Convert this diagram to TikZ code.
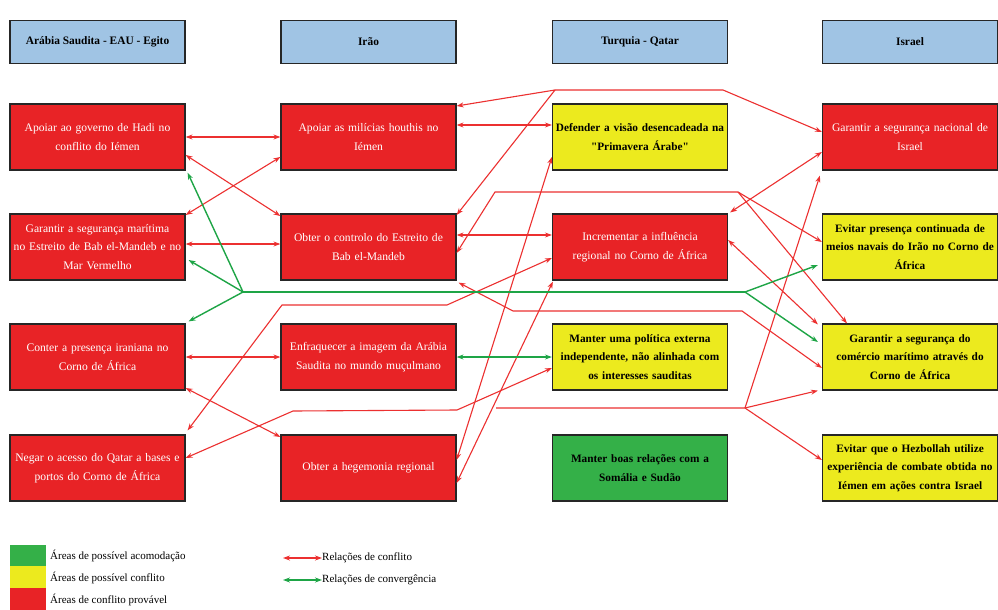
\documentclass[tikz,border=0pt]{standalone}
\usepackage{fontspec}
\setmainfont{Liberation Serif}[Ligatures=TeXOff]
\usetikzlibrary{arrows.meta}
\definecolor{boxred}{RGB}{232,35,38}
\definecolor{boxyel}{RGB}{236,234,30}
\definecolor{boxgrn}{RGB}{52,176,72}
\definecolor{hdrblue}{RGB}{160,196,228}
\definecolor{linered}{RGB}{236,48,48}
\definecolor{linegrn}{RGB}{30,165,70}
\begin{document}
\begin{tikzpicture}[x=1pt,y=-1pt,
  box/.style={draw=black!85, line width=1.2pt, minimum width=175pt, minimum height=66pt,
    text width=174pt, align=center, inner sep=0pt, font=\fontsize{11.6}{18.5}\selectfont},
  redbox/.style={box, fill=boxred, text=white},
  yelbox/.style={box, fill=boxyel, font=\fontsize{11.3}{18.5}\selectfont\bfseries},
  grnbox/.style={box, fill=boxgrn, font=\fontsize{11.3}{18.5}\selectfont\bfseries},
  hdr/.style={draw=black!85, line width=1.2pt, fill=hdrblue, minimum width=175pt,
    minimum height=43pt, inner sep=0pt, font=\fontsize{11.4}{13}\selectfont\bfseries},
  conf/.style={draw=linered, line width=1.1pt},
  conv/.style={draw=linegrn, line width=1.4pt},
  both/.style={{Stealth[length=7pt,width=5pt]}-{Stealth[length=7pt,width=5pt]}},
  tohead/.style={-{Stealth[length=7pt,width=5pt]}},
  legtxt/.style={anchor=west, inner sep=0pt, font=\fontsize{11}{12}\selectfont}
]
\useasboundingbox[fill=white] (0,0) rectangle (998,610);

% headers
\node[hdr] (H1) at (97.5,42) {Arábia Saudita - EAU - Egito};
\node[hdr] (H2) at (368.5,42) {Irão};
\node[hdr] (H3) at (640,42) {Turquia - Qatar};
\node[hdr] (H4) at (910,42) {Israel};

% column 1
\node[redbox] (A1) at (97.5,137) {Apoiar ao governo de Hadi no\\conflito do Iémen};
\node[redbox] (A2) at (97.5,247) {Garantir a segurança marítima\\no Estreito de Bab el-Mandeb e no\\Mar Vermelho};
\node[redbox] (A3) at (97.5,357) {Conter a presença iraniana no\\Corno de África};
\node[redbox] (A4) at (97.5,468) {Negar o acesso do Qatar a bases e\\portos do Corno de África};
% column 2
\node[redbox] (B1) at (368.5,137) {Apoiar as milícias houthis no\\Iémen};
\node[redbox] (B2) at (368.5,247) {Obter o controlo do Estreito de\\Bab el-Mandeb};
\node[redbox] (B3) at (368.5,357) {Enfraquecer a imagem da Arábia\\Saudita no mundo muçulmano};
\node[redbox] (B4) at (368.5,468) {Obter a hegemonia regional};
% column 3
\node[yelbox] (C1) at (640,137) {Defender a visão desencadeada na\\"Primavera Árabe"};
\node[redbox] (C2) at (640,247) {Incrementar a influência\\regional no Corno de África};
\node[yelbox] (C3) at (640,357) {Manter uma política externa\\independente, não alinhada com\\os interesses sauditas};
\node[grnbox] (C4) at (640,468) {Manter boas relações com a\\Somália e Sudão};
% column 4
\node[redbox] (D1) at (910,137) {Garantir a segurança nacional de\\Israel};
\node[yelbox] (D2) at (910,247) {Evitar presença continuada de\\meios navais do Irão no Corno de\\África};
\node[yelbox] (D3) at (910,357) {Garantir a segurança do\\comércio marítimo através do\\Corno de África};
\node[yelbox] (D4) at (910,468) {Evitar que o Hezbollah utilize\\experiência de combate obtida no\\Iémen em ações contra Israel};

% junction coordinates
\coordinate (J1) at (555,90);
\coordinate (J1b) at (723,90);
\coordinate (J2a) at (495,192);
\coordinate (J2) at (738,192);
\coordinate (J3a) at (513,311);
\coordinate (J3b) at (742,311);
\coordinate (J4a) at (496,408);
\coordinate (J4) at (745,408);
\coordinate (K1) at (282,305);
\coordinate (K2) at (447,305);
\coordinate (K3) at (293,411);
\coordinate (K4) at (457,410);
\coordinate (HG) at (243,292);
\coordinate (HG2) at (745,292);

% red conflict relations, column 1 - column 2
\draw[conf,both] (A1.east) -- (B1.west);
\draw[conf,both] ([yshift=-18pt]A1.east) -- ([yshift=31pt]B2.west);
\draw[conf,both] ([yshift=32pt]A2.east) -- ([yshift=-20pt]B1.west);
\draw[conf,both] ([yshift=3pt]A2.east) -- ([yshift=3pt]B2.west);
\draw[conf,both] (A3.east) -- (B3.west);
\draw[conf,both] ([yshift=-31pt]A3.east) -- ([yshift=31pt]B4.west);
\draw[conf,both] ([xshift=2pt,yshift=4pt]A4.north east) -- (K1) -- (K2) -- ([yshift=-11pt]C2.west);
\draw[conf,both] ([yshift=10pt]A4.east) -- (K3) -- (K4) -- ([yshift=-11pt]C3.west);

% Iran - Turkey/Qatar - Israel
\draw[conf,tohead] (J1) -- ([yshift=31pt]B1.east);
\draw[conf,tohead] (J1) -- ([yshift=32pt]B2.east);
\draw[conf,tohead] (J1) -- (J1b) -- ([yshift=5pt]D1.west);
\draw[conf,both] ([yshift=12pt]B1.east) -- ([yshift=12pt]C1.west);
\draw[conf,both] ([yshift=12pt]B2.east) -- ([yshift=12pt]C2.west);
\draw[conf,tohead] (J2) -- (J2a) -- ([yshift=-6pt]B2.east);
\draw[conf,tohead] (J2) -- ([yshift=5pt]D2.west);
\draw[conf,tohead] (J2) -- ([xshift=-63pt]D3.north);
\draw[conf,both] ([xshift=2pt,yshift=-2pt]B2.south east) -- (J3a) -- (J3b) -- ([yshift=-11pt]D3.west);
\draw[conf,both] ([yshift=-20pt]C1.west) -- ([yshift=8pt]B4.east);
\draw[conf,both] ([yshift=-15pt]B4.east) -- ([xshift=1pt,yshift=-1pt]C2.south west);
\draw[conf,tohead] (J4a) -- (J4) -- ([xshift=-2pt,yshift=-5pt]D1.south west);
\draw[conf,tohead] (J4) -- ([xshift=-4pt,yshift=0pt]D3.south west);
\draw[conf,tohead] (J4) -- ([yshift=8pt]D4.west);
\draw[conf,both] ([xshift=2pt,yshift=1pt]C2.north east) -- ([yshift=-15pt]D1.west);
\draw[conf,both] ([yshift=7pt]C2.east) -- ([xshift=-4pt,yshift=-1pt]D3.north west);

% green convergence relations
\draw[conv,tohead] (HG) -- ([xshift=2pt,yshift=-2pt]A1.south east);
\draw[conv,tohead] (HG) -- ([xshift=3pt,yshift=-13pt]A2.east);
\draw[conv,tohead] (HG) -- ([xshift=3pt,yshift=2pt]A3.north east);
\draw[conv] (HG) -- (HG2);
\draw[conv,tohead] (HG2) -- ([xshift=-4pt,yshift=-18pt]D2.west);
\draw[conv,tohead] (HG2) -- ([xshift=-4pt,yshift=15pt]D3.west);
\draw[conv,both] (B3.east) -- (C3.west);

% legend
\node[fill=boxgrn, minimum width=36pt, minimum height=21.5pt, inner sep=0pt] (LG) at (28,555.5) {};
\node[fill=boxyel, minimum width=36pt, minimum height=22pt, inner sep=0pt] (LY) at (28,577) {};
\node[fill=boxred, minimum width=36pt, minimum height=22pt, inner sep=0pt] (LR) at (28,599) {};
\node[legtxt] (TG) at (50,556) {Áreas de possível acomodação};
\node[legtxt] (TY) at (50,578) {Áreas de possível conflito};
\node[legtxt] (TR) at (50,600) {Áreas de conflito provável};
\coordinate (LA1) at (283,558);
\coordinate (LA2) at (322,558);
\coordinate (LB1) at (283,580);
\coordinate (LB2) at (322,580);
\draw[conf,both] (LA1) -- (LA2);
\draw[conv,both] (LB1) -- (LB2);
\node[legtxt] (TC) at (LA2) {Relações de conflito};
\node[legtxt] (TV) at (LB2) {Relações de convergência};
\end{tikzpicture}
\end{document}
